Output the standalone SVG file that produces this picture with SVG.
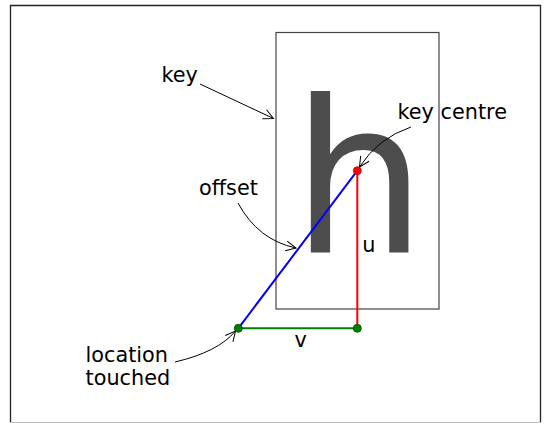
<svg xmlns="http://www.w3.org/2000/svg" width="544" height="423" viewBox="0 0 544 423">
<defs>
<style>
.t{font-family:"DejaVu Sans",sans-serif;font-size:20.8px;fill:#000}
.ann{fill:none;stroke:#000;stroke-width:1}
</style>
<marker id="ah" viewBox="0 0 12 12" refX="11" refY="6" markerWidth="12" markerHeight="12" markerUnits="userSpaceOnUse" orient="auto">
<path d="M1,1 L11,6 L1,11" fill="none" stroke="#000" stroke-width="1"/>
</marker>
</defs>
<rect width="544" height="423" fill="#fff"/>
<g id="frame">
<path d="M10.5,423 V5.5 H540.5 V423" fill="none" stroke="#222" stroke-width="1.3"/>
<line x1="10" y1="422.5" x2="541" y2="422.5" stroke="#bbb" stroke-width="1"/>
</g>
<g id="key">
<rect x="276" y="32.5" width="163" height="276.5" fill="none" stroke="#444" stroke-width="1.2"/>
<text x="291.4" y="251.7" style="font-family:'DejaVu Sans',sans-serif;font-size:213px;fill:#4d4d4d">h</text>
</g>
<g id="connectors">
<line x1="238.3" y1="328.3" x2="357.3" y2="170.7" stroke="#0000ff" stroke-width="2"/>
<line x1="357.3" y1="170.7" x2="357.3" y2="328.3" stroke="#ff0000" stroke-width="2"/>
<line x1="238.3" y1="328.3" x2="357.3" y2="328.3" stroke="#008000" stroke-width="2"/>
<path class="ann" d="M200,84 L273.5,118.5" marker-end="url(#ah)"/>
<path class="ann" d="M411,127 Q378,138 359.5,167" marker-end="url(#ah)"/>
<path class="ann" d="M238,203 Q258,240 296,248" marker-end="url(#ah)"/>
<path class="ann" d="M175,362 Q218,352 235.5,331" marker-end="url(#ah)"/>
</g>
<g id="points">
<circle cx="357.3" cy="170.7" r="4" fill="#ff0000" stroke="#c00" stroke-width="0.8"/>
<circle cx="238.3" cy="328.3" r="4" fill="#008000" stroke="#004d00" stroke-width="0.8"/>
<circle cx="357.3" cy="328.3" r="4" fill="#008000" stroke="#004d00" stroke-width="0.8"/>
</g>
<g id="labels">
<text class="t" x="161.5" y="82">key</text>
<text class="t" x="397.5" y="119">key centre</text>
<text class="t" x="199" y="195">offset</text>
<text class="t" x="85.5" y="361.7">location</text>
<text class="t" x="85.5" y="385">touched</text>
<text class="t" x="294.5" y="346.7">v</text>
<text class="t" x="362.3" y="252">u</text>
</g>
</svg>
